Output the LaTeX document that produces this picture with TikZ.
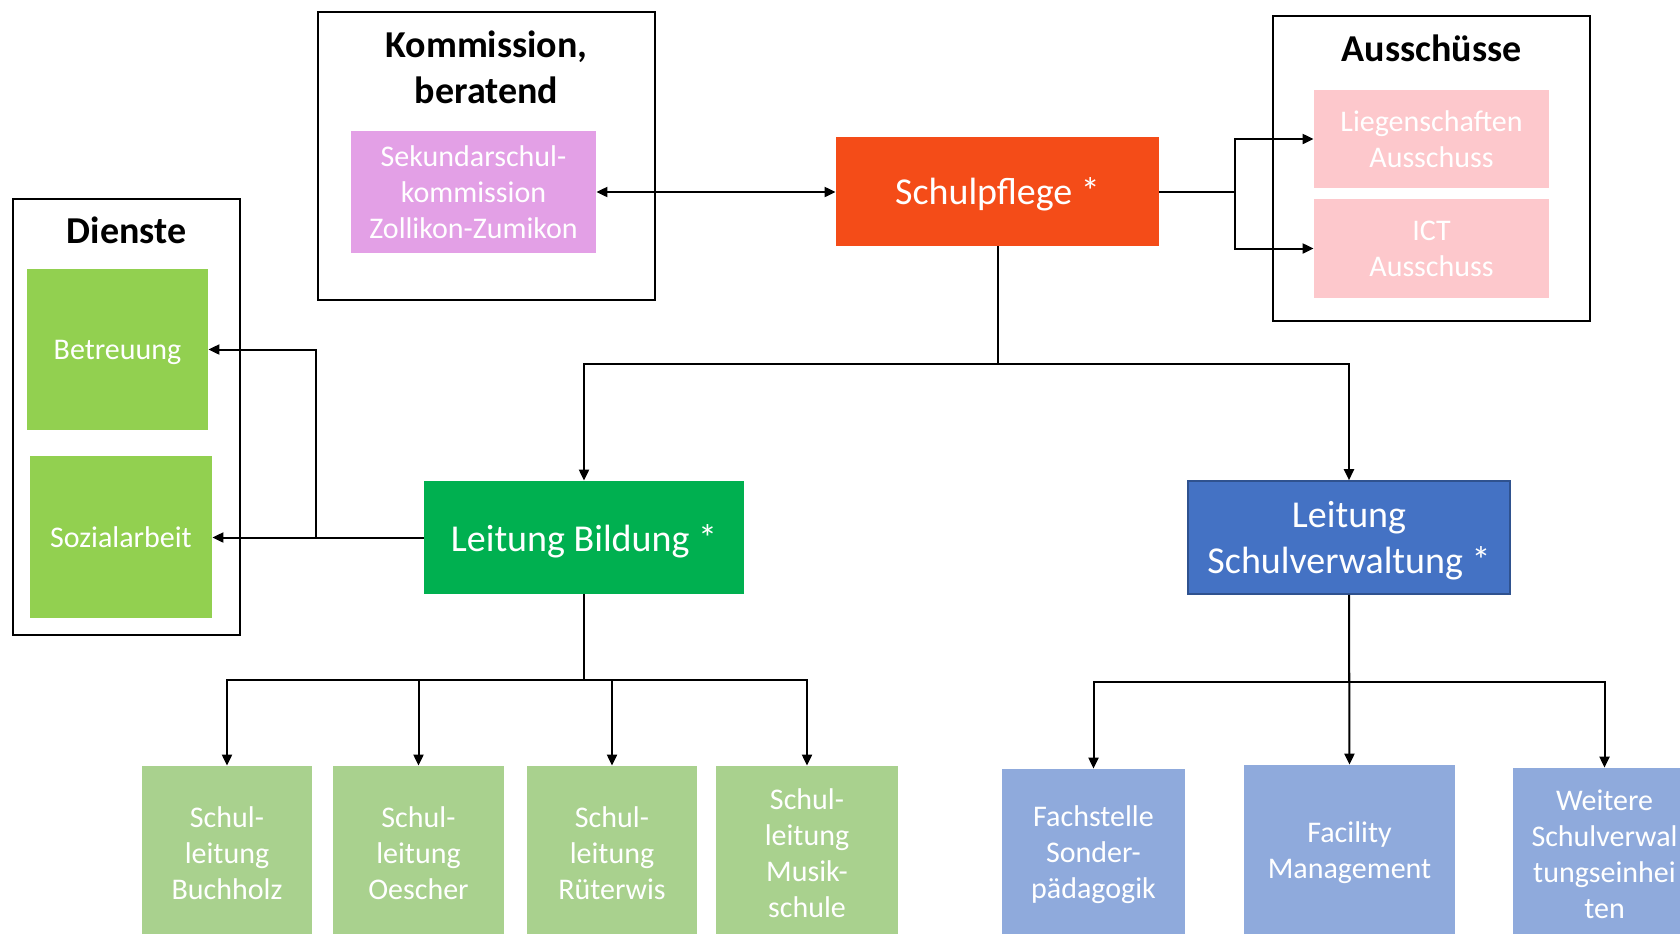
\documentclass[tikz,border=0pt]{standalone}
\usepackage{fontspec}
\setmainfont{Carlito}
\usetikzlibrary{arrows.meta,calc}
\definecolor{sekpink}{HTML}{E3A0E6}
\definecolor{sporange}{HTML}{F44C18}
\definecolor{auspink}{HTML}{FDC8CC}
\definecolor{lightgreen}{HTML}{92D050}
\definecolor{darkgreen}{HTML}{00B050}
\definecolor{lsblue}{HTML}{4472C4}
\definecolor{lsborder}{HTML}{2F528F}
\definecolor{botgreen}{HTML}{A9D18E}
\definecolor{botblue}{HTML}{8FAADC}
\newcommand{\bigtxt}{\fontsize{19}{23}\selectfont}
\newcommand{\smalltxt}{\fontsize{15}{18}\selectfont}
\tikzset{
  frame/.style={draw=black, line width=1.4pt, fill=none, inner sep=0pt},
  title/.style={font=\bigtxt\bfseries, align=center, text=black, inner sep=0pt},
  box/.style={inner sep=0pt, align=center, text=white, font=\smalltxt},
  bigbox/.style={inner sep=0pt, align=center, text=white, font=\bigtxt},
  conn/.style={line width=1pt, draw=black},
  arr/.style={conn, -{Triangle[length=5.5pt,width=5pt]}},
  darr/.style={conn, {Triangle[length=5.5pt,width=5pt]}-{Triangle[length=5.5pt,width=5pt]}}
}
\begin{document}
\begin{tikzpicture}[x=0.5pt,y=-0.5pt]
\useasboundingbox (0,0) rectangle (1680,933);
\clip (0,0) rectangle (1680,933);
\fill[white] (0,0) rectangle (1680,933);
% frames
\node[frame, minimum width=168.5pt, minimum height=144pt] (komm) at (486.5,156) {};
\node[title] (kommt) at (486.5,67.5) {Kommission,\\beratend};
\node[frame, minimum width=158.5pt, minimum height=152.5pt] (aus) at (1431.5,168.5) {};
\node[title] (aust) at (1431.5,48) {Ausschüsse};
\node[frame, minimum width=113.5pt, minimum height=218pt] (dien) at (126.5,417) {};
\node[title] (dient) at (126.5,230) {Dienste};
% boxes
\node[box, fill=sekpink, minimum width=122.5pt, minimum height=61pt] (sek) at (473.5,192) {Sekundarschul-\\kommission\\Zollikon-Zumikon};
\node[bigbox, text depth=0pt, fill=sporange, minimum width=161.5pt, minimum height=54.5pt] (sp) at (997.5,191.5) {Schulpflege *};
\node[box, fill=auspink, minimum width=117.5pt, minimum height=49pt] (lieg) at (1431.5,139) {Liegenschaften\\Ausschuss};
\node[box, fill=auspink, minimum width=117.5pt, minimum height=49.5pt] (ict) at (1431.5,248.5) {ICT\\Ausschuss};
\node[box, text depth=0pt, fill=lightgreen, minimum width=90.5pt, minimum height=80.5pt] (betr) at (117.5,349.5) {Betreuung};
\node[box, text depth=0pt, fill=lightgreen, minimum width=91pt, minimum height=81pt] (soz) at (121,537) {Sozialarbeit};
\node[bigbox, text depth=0pt, fill=darkgreen, minimum width=160pt, minimum height=56.5pt] (lb) at (584,537.5) {Leitung Bildung *};
\node[bigbox, text depth=0pt, fill=lsblue, draw=lsborder, line width=0.8pt, minimum width=161pt, minimum height=56.5pt] (ls) at (1349,537.5) {Leitung\\Schulverwaltung *};
% bottom green
\node[box, fill=botgreen, minimum width=85pt, minimum height=87pt] (buch) at (227,853) {Schul-\\leitung\\Buchholz};
\node[box, fill=botgreen, minimum width=85.5pt, minimum height=87pt] (oes) at (418.5,853) {Schul-\\leitung\\Oescher};
\node[box, fill=botgreen, minimum width=85pt, minimum height=87pt] (rue) at (612,853) {Schul-\\leitung\\Rüterwis};
\node[box, fill=botgreen, minimum width=91pt, minimum height=87pt] (mus) at (807,853) {Schul-\\leitung\\Musik-\\schule};
% bottom blue
\node[box, fill=botblue, minimum width=91.5pt, minimum height=85.5pt] (fach) at (1093.5,854.5) {Fachstelle\\Sonder-\\pädagogik};
\node[box, fill=botblue, minimum width=105.5pt, minimum height=87.5pt] (fac) at (1349.5,852.5) {Facility\\Management};
\node[box, fill=botblue, minimum width=91.5pt, minimum height=86pt] (wei) at (1604.5,854) {Weitere\\Schulverwal\\tungseinhei\\ten};
% connectors
\draw[darr] (sek.east) -- (sek.east -| sp.west);
\draw[arr] (sp.east) -- ++(76,0) |- (lieg.west);
\draw[arr] (sp.east) -- ++(76,0) |- (ict.west);
\draw[arr] (sp.south) -- ++(0,118) -| (lb.north);
\draw[arr] (sp.south) -- ++(0,118) -| (ls.north);
\draw[arr] (lb.west) -- (lb.west -| soz.east);
\draw[arr] (lb.west) -- ++(-108,0) |- (betr.east);
\draw[arr] (lb.south) -- ++(0,86) -| (buch.north);
\draw[arr] (lb.south) -- ++(0,86) -| (oes.north);
\draw[arr] (lb.south) -- ++(0,86) -| (rue.north);
\draw[arr] (lb.south) -- ++(0,86) -| (mus.north);
\draw[arr] (ls.south) -- ++(0,87) -| (fach.north);
\draw[arr] (ls.south) -- (fac.north);
\draw[arr] (ls.south) -- ++(0,87) -| (wei.north);
\end{tikzpicture}
\end{document}
